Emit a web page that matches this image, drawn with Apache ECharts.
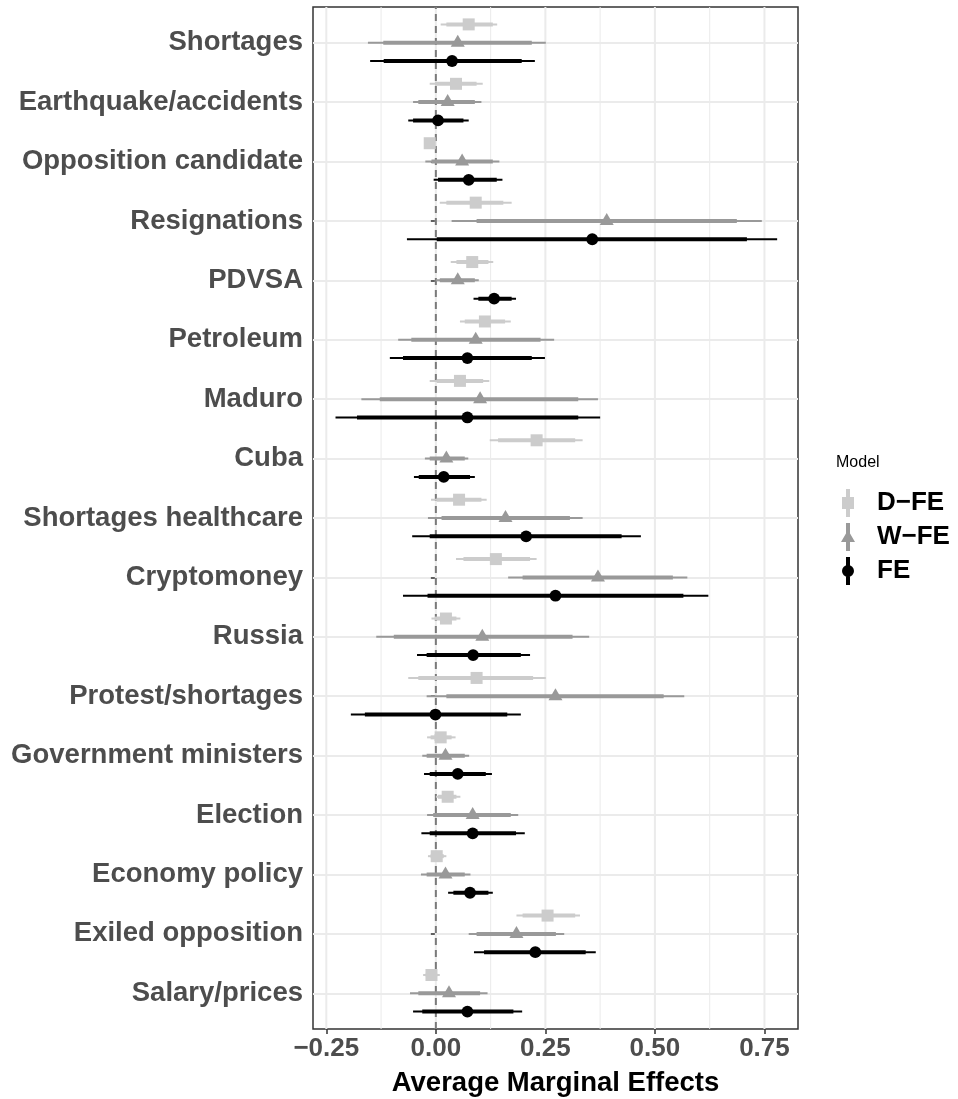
<!DOCTYPE html>
<html>
<head>
<meta charset="utf-8">
<script src="https://cdn.jsdelivr.net/npm/echarts@6/dist/echarts.min.js"></script>
<style>html,body{margin:0;padding:0;background:#fff;}#chart{width:958px;height:1099px;}</style>
</head>
<body>
<div id="chart"></div>
<script>
// ---- data ----
var categories = ["Shortages","Earthquake/accidents","Opposition candidate","Resignations","PDVSA","Petroleum","Maduro","Cuba","Shortages healthcare","Cryptomoney","Russia","Protest/shortages","Government ministers","Election","Economy policy","Exiled opposition","Salary/prices"];
var modelNames = ["D\u2212FE","W\u2212FE","FE"];
// each row: [lo95, lo90, estimate, hi90, hi95]
var dfe = [
  [0.011,0.024,0.075,0.130,0.140],
  [-0.014,-0.002,0.046,0.093,0.107],
  [-0.022,-0.018,-0.014,-0.009,-0.005],
  [0.009,0.024,0.091,0.154,0.173],
  [0.034,0.047,0.083,0.120,0.131],
  [0.055,0.066,0.112,0.158,0.171],
  [-0.014,0.002,0.055,0.108,0.122],
  [0.123,0.142,0.230,0.318,0.335],
  [-0.011,0.002,0.053,0.104,0.116],
  [0.046,0.063,0.137,0.215,0.230],
  [-0.010,-0.002,0.023,0.047,0.056],
  [-0.063,-0.040,0.093,0.222,0.251],
  [-0.020,-0.012,0.011,0.036,0.045],
  [0.000,0.005,0.027,0.047,0.056],
  [-0.018,-0.012,0.002,0.018,0.024],
  [0.184,0.198,0.255,0.318,0.329],
  [-0.029,-0.023,-0.010,0.003,0.009]
];
var wfe = [
  [-0.155,-0.120,0.050,0.219,0.251],
  [-0.052,-0.040,0.027,0.089,0.104],
  [-0.024,-0.010,0.060,0.130,0.145],
  [0.036,0.093,0.390,0.687,0.744],
  [0.000,0.009,0.050,0.089,0.098],
  [-0.086,-0.056,0.091,0.239,0.270],
  [-0.170,-0.128,0.101,0.325,0.370],
  [-0.025,-0.014,0.024,0.066,0.074],
  [-0.018,0.013,0.159,0.306,0.335],
  [0.165,0.198,0.370,0.541,0.574],
  [-0.136,-0.096,0.106,0.312,0.350],
  [-0.021,0.024,0.273,0.520,0.567],
  [-0.031,-0.021,0.022,0.066,0.076],
  [-0.020,-0.006,0.084,0.171,0.188],
  [-0.034,-0.021,0.022,0.066,0.079],
  [0.075,0.093,0.184,0.274,0.293],
  [-0.059,-0.040,0.030,0.101,0.118]
];
var fe = [
  [-0.150,-0.119,0.037,0.196,0.226],
  [-0.063,-0.052,0.005,0.063,0.075],
  [-0.005,0.005,0.075,0.139,0.152],
  [-0.066,0.002,0.357,0.710,0.779],
  [0.086,0.097,0.133,0.173,0.183],
  [-0.105,-0.075,0.072,0.219,0.249],
  [-0.229,-0.180,0.072,0.325,0.375],
  [-0.050,-0.039,0.018,0.078,0.089],
  [-0.054,-0.014,0.206,0.424,0.468],
  [-0.075,-0.019,0.273,0.565,0.622],
  [-0.043,-0.021,0.085,0.194,0.215],
  [-0.194,-0.162,-0.001,0.163,0.194],
  [-0.027,-0.014,0.050,0.114,0.128],
  [-0.033,-0.014,0.084,0.183,0.203],
  [0.028,0.040,0.078,0.120,0.130],
  [0.087,0.110,0.227,0.342,0.365],
  [-0.052,-0.031,0.072,0.177,0.197]
];
var xMajor = [-0.25, 0, 0.25, 0.5, 0.75];
var xMinor = [-0.125, 0.125, 0.375, 0.625];
var xMin = -0.2804, xMax = 0.8266;

// ---- chart ----
var FONT = "'Liberation Sans', Arial, Helvetica, sans-serif";
var chart = echarts.init(document.getElementById('chart'), null, {renderer: 'canvas'});

function rows(arr) {
  return arr.map(function (r, i) { return [r[0], r[1], r[2], r[3], r[4], i]; });
}

function makeRenderer(kind, color, dodge) {
  return function (params, api) {
    var cat = api.value(5);
    var step = api.coord([0, 1])[1] - api.coord([0, 0])[1];
    var y = api.coord([0, cat])[1] + dodge * step;
    var xa = api.coord([api.value(0), cat])[0];
    var xb = api.coord([api.value(1), cat])[0];
    var xe = api.coord([api.value(2), cat])[0];
    var xc = api.coord([api.value(3), cat])[0];
    var xd = api.coord([api.value(4), cat])[0];
    var sym;
    if (kind === 'square') {
      sym = {type: 'rect', shape: {x: xe - 6, y: y - 6, width: 12, height: 12}, style: {fill: color}};
    } else if (kind === 'triangle') {
      sym = {type: 'polygon', shape: {points: [[xe, y - 8], [xe + 7, y + 4], [xe - 7, y + 4]]}, style: {fill: color}};
    } else {
      sym = {type: 'circle', shape: {cx: xe, cy: y, r: 5.9}, style: {fill: color}};
    }
    return {
      type: 'group',
      children: [
        {type: 'line', shape: {x1: xa, y1: y, x2: xd, y2: y}, style: {stroke: color, lineWidth: 2}},
        {type: 'line', shape: {x1: xb, y1: y, x2: xc, y2: y}, style: {stroke: color, lineWidth: 4}},
        sym
      ]
    };
  };
}

function vline(width, color, dash) {
  return function (params, api) {
    var v = api.value(0);
    var p0 = api.coord([v, 0]);
    var p1 = api.coord([v, 1]);
    var st = {stroke: color, lineWidth: width};
    if (dash) st.lineDash = dash;
    return {type: 'line', shape: {x1: p0[0], y1: p0[1], x2: p1[0], y2: p1[1]}, style: st};
  };
}

var colors = ['#CCCCCC', '#999999', '#000000'];
var icons = [
  'path://M4 0H8V28H4Z M0 8H12V20H0Z',
  'path://M5 0H9V28H5Z M7 7L14 19L0 19Z',
  'path://M4 0H8V28H4Z M0 14A6 6 0 1 1 12 14A6 6 0 1 1 0 14Z'
];

var option = {
  animation: false,
  backgroundColor: '#ffffff',
  title: {
    text: 'Model', left: 831, top: 450,
    textStyle: {fontFamily: FONT, fontSize: 16, fontWeight: 'normal', color: '#000'}
  },
  legend: {
    orient: 'vertical', left: 836, top: 484,
    itemWidth: 48, itemHeight: 28, itemGap: 6,
    symbolKeepAspect: true,
    selectedMode: false,
    textStyle: {fontFamily: FONT, fontSize: 26, fontWeight: 'bold', color: '#000'},
    data: modelNames.map(function (n, i) { return {name: n, icon: icons[i]}; })
  },
  grid: [
    {left: 313, top: 7, width: 485, height: 1022, show: true, borderColor: '#333333', borderWidth: 1.5, backgroundColor: 'transparent', outerBoundsMode: 'none'},
    {left: 313, top: 42.7, width: 485, height: 950.6, outerBoundsMode: 'none'}
  ],
  xAxis: [
    {
      type: 'value', gridIndex: 0, min: xMin, max: xMax, position: 'bottom',
      axisLine: {show: false},
      axisTick: {show: true, length: 5, customValues: xMajor, lineStyle: {color: '#333333', width: 1.5}},
      axisLabel: {
        show: true, customValues: xMajor, margin: 7,
        fontFamily: FONT, fontSize: 26, fontWeight: 'bold', color: '#4D4D4D',
        formatter: function (v) { return (v < 0 ? '\u2212' : '') + Math.abs(v).toFixed(2); }
      },
      splitLine: {show: false},
      name: 'Average Marginal Effects', nameLocation: 'middle', nameGap: 40,
      nameTextStyle: {fontFamily: FONT, fontSize: 27.5, fontWeight: 'bold', color: '#000'}
    },
    {
      type: 'value', gridIndex: 1, min: xMin, max: xMax, show: false,
      splitLine: {show: false}
    }
  ],
  yAxis: [
    {type: 'value', gridIndex: 0, min: 0, max: 1, show: false, splitLine: {show: false}},
    {
      type: 'category', gridIndex: 1, data: categories, inverse: true, boundaryGap: false,
      axisLine: {show: false},
      axisTick: {show: true, length: 5, interval: 0, lineStyle: {color: '#333333', width: 1.5}},
      axisLabel: {show: true, interval: 0, margin: 10, fontFamily: FONT, fontSize: 27.5, fontWeight: 'bold', color: '#4D4D4D'},
      splitLine: {show: true, interval: 0, lineStyle: {color: '#EBEBEB', width: 2}}
    }
  ],
  series: [
    {type: 'custom', name: 'gridMinor', xAxisIndex: 0, yAxisIndex: 0, z: 1, silent: true,
     data: xMinor.map(function (v) { return [v, 0]; }), renderItem: vline(1, '#EBEBEB')},
    {type: 'custom', name: 'gridMajor', xAxisIndex: 0, yAxisIndex: 0, z: 1, silent: true,
     data: xMajor.map(function (v) { return [v, 0]; }), renderItem: vline(2, '#EBEBEB')},
    {type: 'custom', name: 'zero', xAxisIndex: 0, yAxisIndex: 0, z: 2, silent: true,
     data: [[0, 0]], renderItem: vline(2, '#7A7A7A', [7, 5])},
    {type: 'custom', name: modelNames[0], xAxisIndex: 1, yAxisIndex: 1, z: 3,
     itemStyle: {color: colors[0]}, encode: {x: [0, 1, 2, 3, 4], y: 5},
     data: rows(dfe), renderItem: makeRenderer('square', colors[0], -0.308)},
    {type: 'custom', name: modelNames[1], xAxisIndex: 1, yAxisIndex: 1, z: 3,
     itemStyle: {color: colors[1]}, encode: {x: [0, 1, 2, 3, 4], y: 5},
     data: rows(wfe), renderItem: makeRenderer('triangle', colors[1], 0)},
    {type: 'custom', name: modelNames[2], xAxisIndex: 1, yAxisIndex: 1, z: 3,
     itemStyle: {color: colors[2]}, encode: {x: [0, 1, 2, 3, 4], y: 5},
     data: rows(fe), renderItem: makeRenderer('circle', colors[2], 0.308)}
  ]
};
chart.setOption(option);
</script>
</body>
</html>
